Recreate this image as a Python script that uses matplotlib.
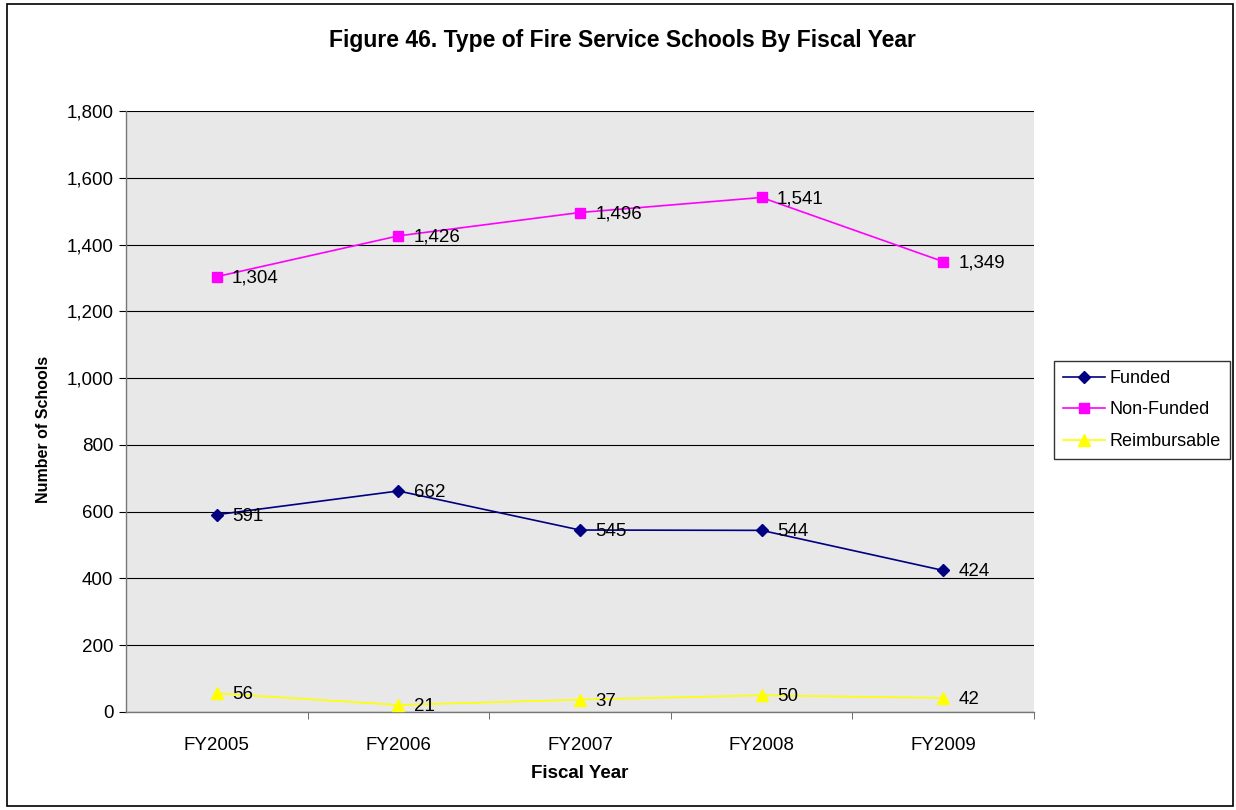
import matplotlib
matplotlib.use("Agg")
import matplotlib.pyplot as plt
from matplotlib.patches import Rectangle
from matplotlib.ticker import FuncFormatter, FixedLocator

years = ["FY2005", "FY2006", "FY2007", "FY2008", "FY2009"]
funded = [591, 662, 545, 544, 424]
non_funded = [1304, 1426, 1496, 1541, 1349]
reimbursable = [56, 21, 37, 50, 42]

plt.rcParams['font.family'] = ['Liberation Sans', 'DejaVu Sans']

fig = plt.figure(figsize=(12.36, 8.10), dpi=100)
fig.patches.append(Rectangle((7/1236, 1 - 806/810), 1226/1236, 802/810,
                             transform=fig.transFigure, fill=False,
                             edgecolor='black', linewidth=1.2))

ax = fig.add_axes([126/1236, 1 - 712/810, 908/1236, 601/810])
ax.set_facecolor('#E8E8E8')
x = list(range(len(years)))

series = [
    (funded, 'Funded', '#000080', 'D', 6.5),
    (non_funded, 'Non-Funded', '#FF00FF', 's', 7),
    (reimbursable, 'Reimbursable', '#FFFF00', '^', 9),
]
for vals, name, col, mk, ms in series:
    ax.plot(x, vals, color=col, marker=mk, markersize=ms, linewidth=1.2,
            label=name, zorder=3)
    for xi, v in zip(x, vals):
        ax.annotate(f"{v:,}", (xi, v), xytext=(11, -1), textcoords='offset points',
                    ha='left', va='center', fontsize=13.5, color='black', zorder=4)

ax.set_xlim(-0.5, 4.5)
ax.set_ylim(0, 1800)
ax.set_yticks(range(0, 1801, 200))
ax.yaxis.set_major_formatter(FuncFormatter(lambda v, p: f"{int(v):,}"))
ax.grid(axis='y', color='black', linewidth=0.8)
ax.set_axisbelow(True)

ax.set_xticks(x)
ax.set_xticklabels(years)
ax.xaxis.set_minor_locator(FixedLocator([0.5, 1.5, 2.5, 3.5, 4.5]))
ax.tick_params(axis='x', which='major', length=0, pad=18, labelsize=13.5)
ax.tick_params(axis='x', which='minor', length=5, color='#555555')
ax.tick_params(axis='y', length=5, color='black', labelsize=13.5, pad=4)

for s in ['top', 'right']:
    ax.spines[s].set_visible(False)
for s in ['left', 'bottom']:
    ax.spines[s].set_color('#777777')
    ax.spines[s].set_linewidth(1.0)

fig.text(580/1236, 1 - 773/810, "Fiscal Year", ha='center', va='center',
         fontsize=13.5, fontweight='bold')
fig.text(43/1236, 1 - 429/810, "Number of Schools", ha='center', va='center',
         rotation=90, fontsize=11.5, fontweight='bold')
fig.text(622/1236, 1 - 40/810, "Figure 46. Type of Fire Service Schools By Fiscal Year",
         ha='center', va='center', fontsize=16.5, fontweight='bold')

leg = fig.legend(loc='upper left', bbox_to_anchor=(1054/1236, 1 - 361/810),
                 fontsize=13, frameon=True, fancybox=False, edgecolor='black',
                 borderpad=0.5, handlelength=2.3, labelspacing=0.8,
                 handletextpad=0.3, borderaxespad=0)
leg.get_frame().set_linewidth(1.0)

fig.savefig("out.png", dpi=100)
